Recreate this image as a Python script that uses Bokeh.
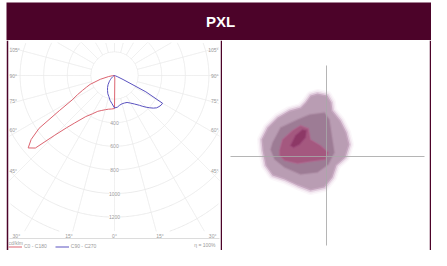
import numpy as np
from bokeh.plotting import figure
from bokeh.models import Range1d, ColumnDataSource, Legend, LegendItem, Label, Spacer
from bokeh.layouts import row, column
from bokeh.embed import file_html
from bokeh.resources import INLINE
from bokeh.core.properties import value

# ---------------- data ----------------
TITLE = "PXL"
UNIT_LABEL = "cd/klm"
EFFICIENCY_LABEL = "η = 100%"
SERIES_NAMES = ["C0 - C180", "C90 - C270"]

GAMMA = [0, 5, 10, 15, 20, 25, 30, 35, 40, 42.5, 45, 47.5, 50, 52.5, 55, 57.5,
         60, 62.5, 65, 67.5, 70, 75, 80, 85, 90]
I_C0 = [280, 30, 5, 0, 0, 0, 0, 0, 0, 0, 0, 0, 0, 0, 0, 0,
        0, 0, 0, 0, 0, 0, 0, 0, 0]
I_C180 = [280, 285, 290, 300, 315, 335, 375, 425, 525, 600, 715, 910, 955, 890, 780, 555,
          415, 355, 300, 255, 220, 125, 50, 15, 0]
I_C90 = [275, 270, 255, 248, 248, 252, 270, 295, 330, 355, 380, 405, 430, 450, 460, 468,
         470, 300, 80, 30, 10, 0, 0, 0, 0]
I_C270 = [275, 240, 215, 185, 165, 140, 118, 95, 70, 60, 48, 40, 32, 25, 20, 15,
          10, 5, 0, 0, 0, 0, 0, 0, 0]

RADIAL_TICKS = [400, 600, 800, 1000, 1200]
GRID_CIRCLES = [200, 400, 600, 800, 1000, 1200, 1400, 1600]
GRID_ANGLES = list(range(0, 360, 15))
SIDE_ANGLES = [105, 90, 75, 60, 45]
BOTTOM_ANGLES = [-30, -15, 0, 15, 30]

# iso-lux contours (metres, luminaire at origin), outer -> inner
ISO_1_X = [-0.9, 0.1, 0.5, 0.6, 1.4, 2.0, 2.3, 1.9, 1.0, 0.6, -0.2, -1.6, -2.9, -4.2, -5.4, -6.1,
           -6.4, -6.5, -5.9, -4.9, -3.7, -2.6, -2.1, -1.6]
ISO_1_Y = [6.3, 6.1, 5.4, 4.6, 3.6, 2.4, 1.2, -0.1, -0.9, -2.1, -3.1, -3.4, -2.9, -2.3, -1.9, -0.9,
           0.6, 1.7, 2.9, 3.9, 4.6, 4.9, 5.4, 6.1]
ISO_2_X = [-5.4, -4.6, -2.9, -1.7, -0.2, 0.3, 0.6, 0.8, 0.2, -0.9, -2.6, -4.2, -5.2, -5.6]
ISO_2_Y = [1.4, 2.9, 3.7, 4.2, 4.4, 3.7, 1.7, 0.4, -0.8, -1.6, -1.8, -1.1, -0.3, 0.7]
ISO_3_X = [-4.7, -4.4, -3.4, -2.6, -1.8, -1.6, -0.6, 0.2, -0.1, -1.6, -2.9, -4.2, -4.7]
ISO_3_Y = [0.6, 1.7, 2.6, 3.1, 2.8, 1.7, 1.1, 0.4, -0.3, -0.5, -0.7, -0.4, 0.1]
ISO_4_X = [-3.6, -3.1, -2.4, -2.0, -2.1, -2.7, -3.3]
ISO_4_Y = [1.1, 2.1, 2.7, 2.6, 1.9, 1.2, 0.9]
ISO_AXIS_X = [-9.6, 9.8]
ISO_AXIS_Y = [-8.9, 9.1]

# ---------------- styles ----------------
MAROON = "#4c0329"
RED = "#dc6470"
BLUE = "#5a52c0"
GRID = "#ebebeb"
TXT = "#9a9a9a"
FONT = "Liberation Sans"
ISO_FILL = ["#b99db3", "#9d7c95", "#a4587f", "#8d3866"]
ISO_EDGE = ["#cfb0c9", "#ad8da5", "#b06890", "#9a4877"]

K = 0.118          # px per cd/klm
CX, CY = 122, 83   # polar centre (page px)


def pg(px, py):
    return (px - CX) / K, (CY - py) / K


# ---------------- header ----------------
header = figure(width=425, height=40, x_range=Range1d(0, 425), y_range=Range1d(0, 38),
                output_backend="svg", toolbar_location=None,
                x_axis_location=None, y_axis_location=None,
                min_border_top=2, min_border_left=0, min_border_right=0, min_border_bottom=0,
                background_fill_color=MAROON, border_fill_color="white", outline_line_color=None)
header.grid.visible = False
header.add_layout(Label(x=214, y=19, text=TITLE, text_align="center", text_baseline="middle",
                        text_color="white", text_font=FONT, text_font_style="bold",
                        text_font_size="15px"))

# ---------------- polar diagram ----------------
x0, y_top = pg(16, 48)
x1, y_bot = pg(228, 258)
pp = figure(width=216, height=210, x_range=Range1d(x0, x1), y_range=Range1d(y_bot, y_top),
            output_backend="svg", toolbar_location=None,
            x_axis_location=None, y_axis_location=None,
            min_border_left=2, min_border_right=2, min_border_top=0, min_border_bottom=0,
            border_fill_color=MAROON, background_fill_color="white", outline_line_color=None)
pp.grid.visible = False

gx0, gy0 = pg(17, 50)
gx1, gy1 = pg(227, 239)


def clip(xs, ys):
    xs = np.asarray(xs, float)
    ys = np.asarray(ys, float)
    bad = (xs < gx0) | (xs > gx1) | (ys > gy0) | (ys < gy1)
    xs[bad] = np.nan
    ys[bad] = np.nan
    return xs, ys


gxs, gys = [], []
th = np.radians(np.linspace(0, 360, 721))
for r in GRID_CIRCLES:
    cx, cy = clip(r * np.sin(th), -r * np.cos(th))
    gxs += list(cx) + [np.nan]
    gys += list(cy) + [np.nan]
tt = np.linspace(200, 2200, 400)
for a in GRID_ANGLES:
    ar = np.radians(a)
    cx, cy = clip(tt * np.sin(ar), -tt * np.cos(ar))
    gxs += list(cx) + [np.nan]
    gys += list(cy) + [np.nan]
pp.line(gxs, gys, line_color=GRID, line_width=1)

bx0, by = pg(17, 246)
bx1, _ = pg(227, 246)
pp.line([bx0, bx1], [by, by], line_color="#dcdcdc", line_width=1)

g = np.radians(np.array(GAMMA, float))


def half(vals, side):
    v = np.array(vals, float)
    return side * v * np.sin(g), -v * np.cos(g)


rx_a, ry_a = half(I_C0, 1)
rx_b, ry_b = half(I_C180, -1)
red_x = list(rx_a[::-1]) + list(rx_b)
red_y = list(ry_a[::-1]) + list(ry_b)
bx_a, by_a = half(I_C90, 1)
bx_b, by_b = half(I_C270, -1)
blue_x = list(bx_a[::-1]) + list(bx_b)
blue_y = list(by_a[::-1]) + list(by_b)

r_red = pp.line(red_x, red_y, line_color=RED, line_width=1, line_join="round")
r_blue = pp.line(blue_x, blue_y, line_color=BLUE, line_width=1, line_join="round")

# radial tick labels
pp.text(x=[0] * len(RADIAL_TICKS), y=[-v for v in RADIAL_TICKS],
        text=[str(v) for v in RADIAL_TICKS], text_align="center", text_baseline="middle",
        text_font=value(FONT), text_font_size="5px", text_color=TXT,
        background_fill_color="white")

# side angle labels
XL = 95 / K
side_y = [-XL * np.cos(np.radians(a)) / np.sin(np.radians(a)) for a in SIDE_ANGLES]
lx, _ = pg(17, 0)
rx, _ = pg(226, 0)
pp.text(x=[lx] * len(SIDE_ANGLES), y=side_y, text=[f"{a}°" for a in SIDE_ANGLES],
        text_align="left", text_baseline="middle", text_font=value(FONT),
        text_font_size="5px", text_color=TXT)
pp.text(x=[rx] * len(SIDE_ANGLES), y=side_y, text=[f"{a}°" for a in SIDE_ANGLES],
        text_align="right", text_baseline="middle", text_font=value(FONT),
        text_font_size="5px", text_color=TXT)

YB = 170 / K
_, bot_y = pg(0, 243)
pp.text(x=[YB * np.tan(np.radians(a)) for a in BOTTOM_ANGLES], y=[bot_y] * len(BOTTOM_ANGLES),
        text=[f"{abs(a)}°" for a in BOTTOM_ANGLES], text_align="center", text_baseline="middle",
        text_font=value(FONT), text_font_size="5px", text_color=TXT)

ux, uy = pg(16, 250)
pp.add_layout(Label(x=ux, y=uy, text=UNIT_LABEL, text_align="left", text_baseline="middle",
                    text_font=FONT, text_font_size="5px", text_color=TXT))
ex, ey = pg(223, 252)
pp.add_layout(Label(x=ex, y=ey, text=EFFICIENCY_LABEL, text_align="right", text_baseline="middle",
                    text_font=FONT, text_font_size="5px", text_color=TXT))

legend = Legend(items=[LegendItem(label=SERIES_NAMES[0], renderers=[r_red]),
                       LegendItem(label=SERIES_NAMES[1], renderers=[r_blue])],
                location=(0, 1), orientation="horizontal", padding=0, margin=0, spacing=8,
                glyph_width=14, glyph_height=5, label_height=5, label_standoff=2,
                label_text_font=FONT, label_text_font_size="5px", label_text_color=TXT,
                background_fill_alpha=0, border_line_color=None)
pp.add_layout(legend)

# ---------------- iso-lux plot ----------------
S = 10.0
IX, IY = 334, 164
pi = figure(width=209, height=210,
            x_range=Range1d((230 - IX) / S, (437 - IX) / S),
            y_range=Range1d((IY - 258) / S, (IY - 48) / S),
            output_backend="svg", toolbar_location=None,
            x_axis_location=None, y_axis_location=None,
            min_border_left=0, min_border_right=2, min_border_top=0, min_border_bottom=0,
            border_fill_color=MAROON, background_fill_color="white", outline_line_color=None)
pi.grid.visible = False

# soft glow around the outer iso-line
for w, a in [(9, 0.08), (6, 0.15)]:
    pi.patch(ISO_1_X, ISO_1_Y, fill_alpha=0, line_color="#c89ac4", line_width=w,
             line_alpha=a, line_join="round")

levels = [(ISO_1_X, ISO_1_Y), (ISO_2_X, ISO_2_Y), (ISO_3_X, ISO_3_Y), (ISO_4_X, ISO_4_Y)]
for i, (xs, ys) in enumerate(levels):
    pi.patch(xs, ys, fill_color=ISO_FILL[i], line_color=ISO_EDGE[i],
             line_width=3 if i == 0 else 2, line_alpha=0.5, line_join="round")

pi.line(ISO_AXIS_X, [0, 0], line_color="#a8a8a8", line_width=1, line_alpha=0.85)
pi.line([0, 0], ISO_AXIS_Y, line_color="#a8a8a8", line_width=1, line_alpha=0.85)

layout = row(Spacer(width=6, height=250), column(header, row(pp, pi)))

open("out.html", "w").write(file_html(layout, INLINE))
